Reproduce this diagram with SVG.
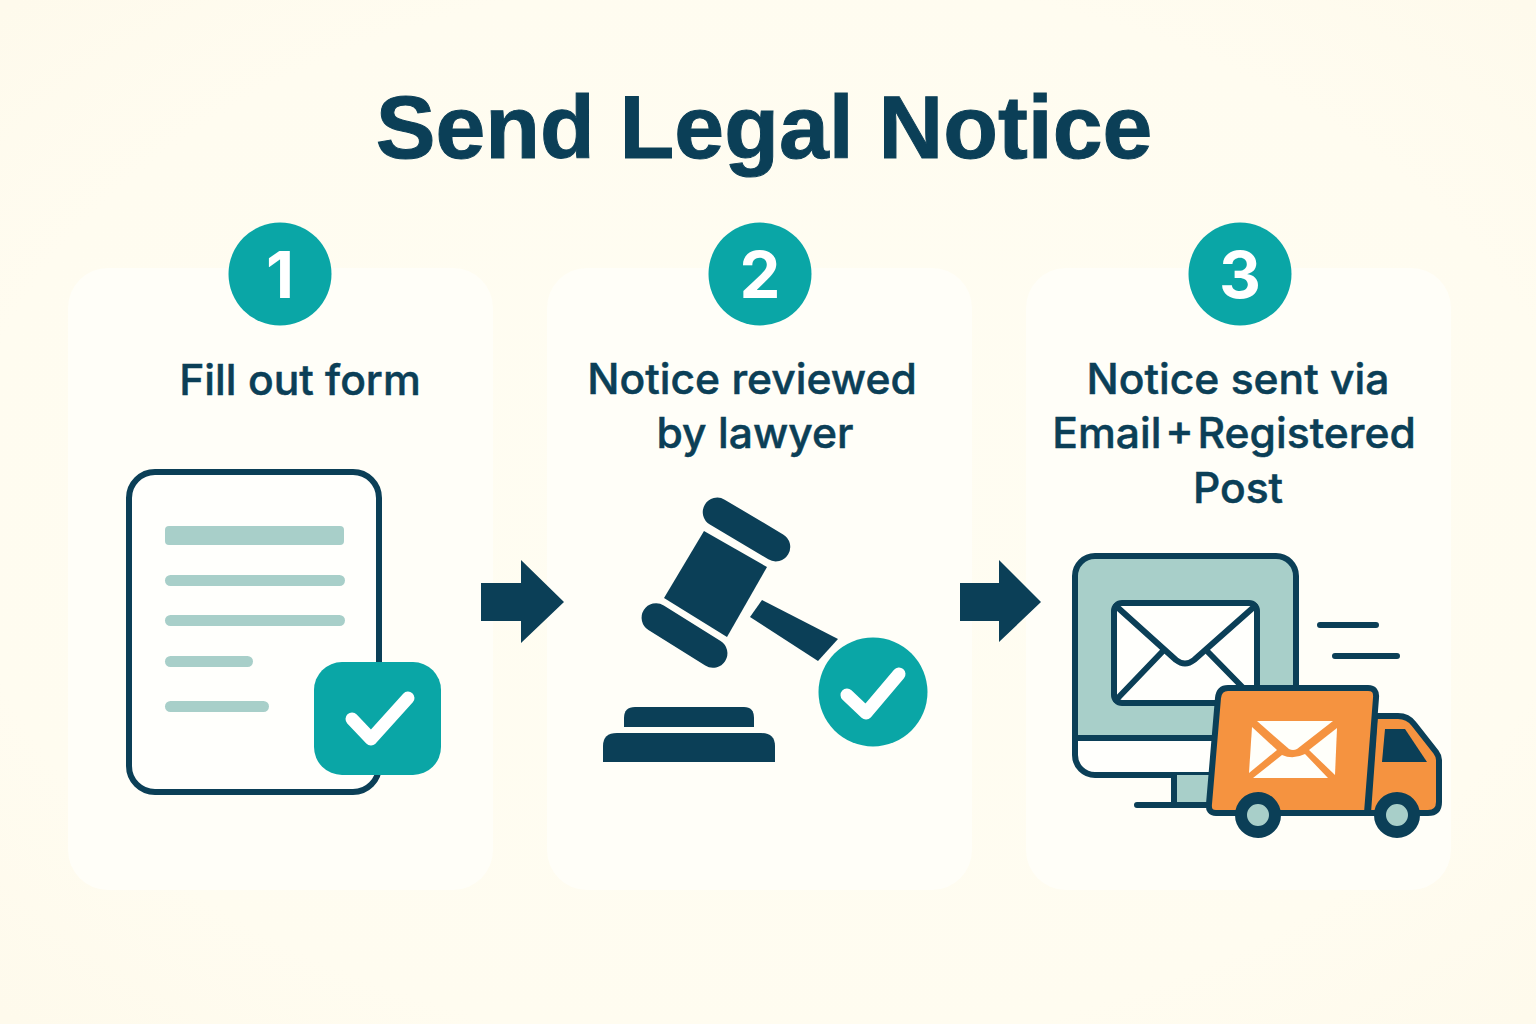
<svg xmlns="http://www.w3.org/2000/svg" width="1536" height="1024" viewBox="0 0 1536 1024">
<defs>
<radialGradient id="bg" cx="50%" cy="50%" r="70%">
<stop offset="0" stop-color="#fffdf2"/>
<stop offset="0.75" stop-color="#fffcf0"/>
<stop offset="1" stop-color="#fefaec"/>
</radialGradient>
</defs>
<style>
.t{font-family:"Inter","Noto Sans","Liberation Sans",sans-serif;font-weight:500;font-size:42.6px;fill:#0b3f57;stroke:#0b3f57;stroke-width:0.5px;text-anchor:middle}
.n{font-family:"Inter","Noto Sans","Liberation Sans",sans-serif;font-weight:700;font-size:65px;fill:#fff;text-anchor:middle}
.card{fill:#fffef8}
.d{fill:#0b3f57}
.s{fill:none;stroke:#0b3f57;stroke-linejoin:round;stroke-linecap:round}
.tl{fill:#0aa6a6}
.m{fill:#a8cfc9}
.w{fill:#fffffa}
.ck{fill:none;stroke:#fff;stroke-width:13;stroke-linecap:round;stroke-linejoin:round}
</style>
<rect width="1536" height="1024" fill="url(#bg)"/>
<text x="764" y="158" font-family="'Liberation Sans',Arial,sans-serif" font-weight="700" font-size="89.600" fill="#0b3f57" stroke="#0b3f57" stroke-width="1" text-anchor="middle">Send Legal Notice</text>
<g id="step1">
<rect class="card" x="68" y="268" width="425" height="622" rx="40"/>
<circle class="tl" cx="280" cy="274" r="51.500"/>
<text class="n" x="280" y="298">1</text>
<text class="t" x="300" y="395">Fill out form</text>
<rect x="129" y="472" width="250" height="320" rx="26" fill="#fffffc" stroke="#0b3f57" stroke-width="6"/>
<rect class="m" x="165" y="526" width="179" height="19" rx="4"/>
<rect class="m" x="165" y="575" width="180" height="11" rx="5.500"/>
<rect class="m" x="165" y="615" width="180" height="11" rx="5.500"/>
<rect class="m" x="165" y="656" width="88" height="11" rx="5.500"/>
<rect class="m" x="165" y="701" width="104" height="11" rx="5.500"/>
<rect class="tl" x="314" y="662" width="127" height="113" rx="28"/>
<path class="ck" d="M352 719L371 739L408 698"/>
</g>
<g id="step2">
<rect class="card" x="547" y="268" width="425" height="622" rx="40"/>
<circle class="tl" cx="760" cy="274" r="51.500"/>
<text class="n" x="760" y="298">2</text>
<text class="t" x="752" y="394">Notice reviewed</text>
<text class="t" x="755" y="448">by lawyer</text>
<path class="d" d="M704 531L767 567L727 637L664 598Z"/>
<rect class="d" x="-48.500" y="-14.500" width="97" height="29" rx="14.500" transform="translate(746.500 529.500) rotate(30.700)"/>
<rect class="d" x="-48" y="-14.500" width="96" height="29" rx="14.500" transform="translate(684.500 635.500) rotate(32)"/>
<path class="d" d="M762 600L838 639L818 661L750 617Z"/>
<circle class="tl" cx="873" cy="692" r="54.500"/>
<path class="ck" d="M847 695L866 713L899 674"/>
<path class="d" d="M624 727V718Q624 707 635 707H744Q754 707 754 718V727Z"/>
<path class="d" d="M603 762V746Q603 733 617 733H761Q775 733 775 746V762Z"/>
</g>
<g id="step3">
<rect class="card" x="1026" y="268" width="425" height="622" rx="40"/>
<circle class="tl" cx="1240" cy="274" r="51.500"/>
<text class="n" x="1240" y="298">3</text>
<text class="t" x="1238" y="394">Notice sent via</text>
<text class="t" x="1234" y="448" word-spacing="-7.500">Email + Registered</text>
<text class="t" x="1238" y="503">Post</text>
<rect x="1075" y="556" width="221" height="219" rx="20" fill="#a8cfc9"/>
<path d="M1075 738H1296V755Q1296 775 1276 775H1095Q1075 775 1075 755Z" fill="#fffffc"/>
<rect x="1075" y="556" width="221" height="219" rx="20" class="s" stroke-width="6"/>
<path class="s" stroke-width="6" d="M1075 738H1296"/>
<rect x="1174" y="775" width="36" height="28" class="m"/>
<path class="s" stroke-width="6" d="M1174 775V805M1137 805H1215"/>
<rect x="1114" y="603" width="143" height="100" rx="8" fill="#fffffc" stroke="#0b3f57" stroke-width="6"/>
<path class="s" stroke-width="6" d="M1116 606L1176 660Q1185 667 1194 660L1255 606M1162 652L1116 700M1208 652L1255 700"/>
<path class="s" stroke-width="6" d="M1320 625H1376M1335 656H1397"/>
<path d="M1375 716H1398Q1408 716 1414 724L1436 752Q1439 756 1439 760V802Q1439 813 1428 813H1368Z" fill="#f59340" stroke="#0b3f57" stroke-width="6" stroke-linejoin="round"/>
<path class="d" d="M1385 729H1405L1427 762H1382Z"/>
<path d="M1228 688H1368Q1377 688 1376 698L1367 813H1216Q1208 813 1209 804L1218 698Q1219 688 1228 688Z" fill="#f59340" stroke="#0b3f57" stroke-width="6" stroke-linejoin="round"/>
<path class="w" d="M1257 721H1333L1297 749Q1293 751 1289 749Z"/>
<path class="w" d="M1252 727L1277 750L1249 773Z"/>
<path class="w" d="M1337 728L1309 750L1335 775Z"/>
<path class="w" d="M1253 778L1282 755Q1293 760 1305 754L1328 778Z"/>
<circle cx="1258" cy="815" r="17" fill="#a8cfc9" stroke="#0b3f57" stroke-width="12"/>
<circle cx="1397" cy="815" r="17" fill="#a8cfc9" stroke="#0b3f57" stroke-width="12"/>
</g>
<g id="connectors">
<path class="d" d="M481 583H521V560L564 602L521 643V621H481Z"/>
<path class="d" d="M960 583H999V560L1041 602L999 642V621H960Z"/>
</g>
</svg>
